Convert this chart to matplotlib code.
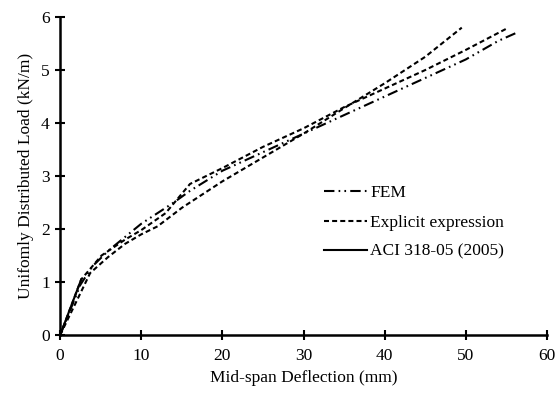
import numpy as np
import matplotlib.pyplot as plt

plt.rcParams['font.family'] = ['Liberation Serif', 'DejaVu Serif']
plt.rcParams['font.size'] = 12.5

# FEM (dash-dot-dot)
fem_x = [0, 2.5, 4, 6, 8, 10, 12, 14, 16, 20, 25, 30, 35, 40, 45, 50, 54, 56.5]
fem_y = [0, 0.95, 1.3, 1.6, 1.85, 2.1, 2.3, 2.5, 2.72, 3.1, 3.45, 3.8, 4.15, 4.5, 4.85, 5.2, 5.55, 5.72]

# Explicit expression, two curves
exp1_x = [0, 3.7, 5.9, 8, 10, 12, 15, 20, 25, 30, 35, 40, 45, 49.5]
exp1_y = [0, 1.17, 1.47, 1.72, 1.9, 2.05, 2.4, 2.9, 3.35, 3.8, 4.28, 4.75, 5.25, 5.8]
exp2_x = [0, 2.6, 5.1, 8, 10, 13, 16, 20, 25, 30, 35, 40, 45, 50, 55]
exp2_y = [0, 1.05, 1.5, 1.8, 1.98, 2.3, 2.85, 3.15, 3.55, 3.9, 4.3, 4.65, 5.0, 5.38, 5.78]

# ACI 318-05 (2005)
aci_x = [0, 2.6]
aci_y = [0, 1.05]

fig = plt.figure(figsize=(5.57, 3.96), dpi=100)
ax = fig.add_axes([0.108, 0.154, 0.874, 0.803])

ax.plot(fem_x, fem_y, color='black', lw=1.5, ls=(0, (5, 2, 0.8, 2, 0.8, 2)), label='FEM')
ax.plot(exp1_x, exp1_y, color='black', lw=1.5, ls=(0, (2.4, 1.5)), label='Explicit expression')
ax.plot(exp2_x, exp2_y, color='black', lw=1.5, ls=(0, (2.4, 1.5)))
ax.plot(aci_x, aci_y, color='black', lw=1.5, ls='-', label='ACI 318-05 (2005)')

ax.set_xlim(0, 60)
ax.set_ylim(0, 6)
ax.set_xticks(np.arange(0, 61, 10))
ax.set_yticks(np.arange(0, 7, 1))
ax.spines['top'].set_visible(False)
ax.spines['right'].set_visible(False)
ax.spines['left'].set_linewidth(1.8)
ax.spines['bottom'].set_linewidth(1.8)
ax.tick_params(direction='inout', length=7, width=1.5, pad=4)
ax.tick_params(axis='x', pad=6)

ax.set_xlabel('Mid-span Deflection (mm)', labelpad=4)
ax.set_ylabel('Unifomly Distributed Load (kN/m)', labelpad=5)

ax.legend(loc='upper left', bbox_to_anchor=(0.51, 0.52), frameon=False,
          handlelength=2.5, handletextpad=0.15, labelspacing=0.75)

fig.savefig('out.png', dpi=100)
